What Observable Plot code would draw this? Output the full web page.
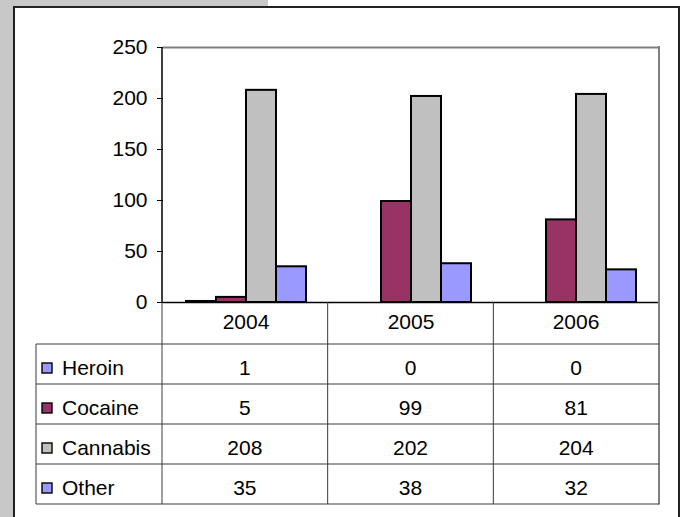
<!DOCTYPE html>
<html>
<head>
<meta charset="utf-8">
<script src="https://cdn.jsdelivr.net/npm/d3@7"></script>
<script src="https://cdn.jsdelivr.net/npm/@observablehq/plot@0.6"></script>
<style>
  html, body { margin: 0; padding: 0; background: #fff; }
  #page { position: relative; width: 685px; height: 517px; overflow: hidden; }
  #gray { position: absolute; left: 0; top: 0; width: 268px; height: 517px; background: #c8c8c8; }
  #box { position: absolute; left: 13px; top: 6px; width: 663px; height: 530px; border: 2px solid #222; background: #fff; }
  #chart { position: absolute; left: 0; top: 0; }
</style>
</head>
<body>
<div id="page">
  <div id="gray"></div>
  <div id="box"></div>
  <div id="chart"></div>
</div>
<script>
const years = ["2004", "2005", "2006"];
const drugs = ["Heroin", "Cocaine", "Cannabis", "Other"];
const heroin = [1, 0, 0];
const cocaine = [5, 99, 81];
const cannabis = [208, 202, 204];
const other = [35, 38, 32];
const colors = ["#9999FF", "#993366", "#C0C0C0", "#9999FF"];
const yTicks = [0, 50, 100, 150, 200, 250];

const series = [heroin, cocaine, cannabis, other];
const data = years.flatMap((year, i) => drugs.map((drug, j) => ({year, drug, value: series[j][i]})));

const FONT = "'Liberation Sans', Arial, sans-serif";
const FS = 21;

const chart = Plot.plot({
  width: 685,
  height: 517,
  marginLeft: 162,
  marginRight: 26,
  marginTop: 47,
  marginBottom: 215,
  style: {background: "transparent", fontFamily: FONT, fontSize: FS + "px", color: "#000"},
  fx: {domain: years, padding: 0, axis: "bottom", tickSize: 0, tickPadding: 12, label: null},
  x: {domain: drugs, paddingInner: 0, paddingOuter: 0.72, axis: null},
  y: {domain: [0, 250], ticks: yTicks, tickSize: 6, tickPadding: 10, label: null, tickFormat: d => String(d)},
  color: {domain: drugs, range: colors},
  marks: [
    Plot.ruleY([250], {stroke: "#808080", strokeWidth: 2}),
    Plot.barY(data, {fx: "year", x: "drug", y: "value", fill: "drug", stroke: "#000", strokeWidth: 2}),
    Plot.ruleY([0], {stroke: "#000", strokeWidth: 1.5})
  ]
});
document.getElementById("chart").appendChild(chart);

// Decorations and data table drawn from the chart's own scales
const fxd = chart.scale("fx");
const fx = d3.scaleBand().domain(fxd.domain).range(fxd.range)
  .paddingInner(fxd.paddingInner || 0).paddingOuter(fxd.paddingOuter || 0);
const yd = chart.scale("y");
const y = d3.scaleLinear().domain(yd.domain).range(yd.range);

const left = fx.range()[0], right = fx.range()[1];
const y0 = y(0), yTop = y(250);
const legendLeft = 36;
const headerBottom = 344;
const rows = d3.scaleBand().domain(drugs).range([headerBottom, 504]);
const tableBottom = rows.range()[1];

const svg = d3.select(chart);
const g = svg.append("g");
const lineColor = "#3a3a3a";

// left axis line
g.append("line").attr("x1", left).attr("x2", left).attr("y1", yTop).attr("y2", y0)
  .attr("stroke", "#000").attr("stroke-width", 1.5);
// right gray border of plot area + table
g.append("line").attr("x1", right).attr("x2", right).attr("y1", yTop - 1).attr("y2", tableBottom + 0.5)
  .attr("stroke", "#808080").attr("stroke-width", 2);

// vertical grid lines of table at band boundaries
years.forEach((yr, i) => {
  const x = fx(yr);
  g.append("line").attr("x1", x).attr("x2", x).attr("y1", y0).attr("y2", tableBottom)
    .attr("stroke", lineColor).attr("stroke-width", 1);
});
// legend column left border
g.append("line").attr("x1", legendLeft).attr("x2", legendLeft).attr("y1", headerBottom).attr("y2", tableBottom)
  .attr("stroke", lineColor).attr("stroke-width", 1);
// horizontal lines
[headerBottom, ...drugs.map(d => rows(d) + rows.bandwidth())].forEach(yy => {
  g.append("line").attr("x1", legendLeft).attr("x2", right).attr("y1", yy).attr("y2", yy)
    .attr("stroke", lineColor).attr("stroke-width", 1);
});

// legend keys and labels, values
drugs.forEach((drug, j) => {
  const cy = rows(drug) + rows.bandwidth() / 2 + 3;
  g.append("rect").attr("x", 42).attr("y", cy - 4).attr("width", 10).attr("height", 10)
    .attr("fill", colors[j]).attr("stroke", "#000").attr("stroke-width", 1.4);
  g.append("text").attr("x", 62).attr("y", cy).attr("dy", "0.36em").attr("text-anchor", "start")
    .attr("font-family", FONT).attr("font-size", FS).attr("fill", "#000").text(drug);
  years.forEach((yr, i) => {
    g.append("text").attr("x", fx(yr) + fx.bandwidth() / 2).attr("y", cy).attr("dy", "0.36em")
      .attr("text-anchor", "middle").attr("font-family", FONT).attr("font-size", FS).attr("fill", "#000")
      .text(series[j][i]);
  });
});
</script>
</body>
</html>
